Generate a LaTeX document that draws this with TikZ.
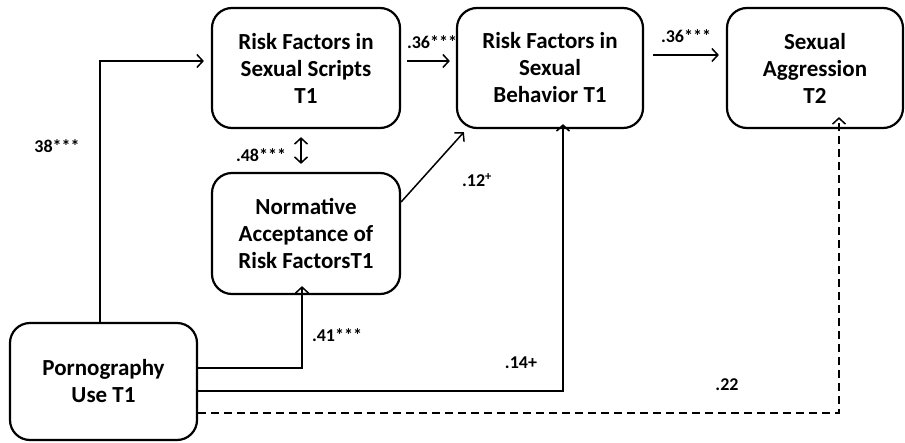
\documentclass[tikz,border=0pt]{standalone}
\usepackage{fontspec}
\setmainfont{Carlito}
\usetikzlibrary{arrows.meta}
\begin{document}
\begin{tikzpicture}[x=1pt,y=-1pt,
  box/.style={draw, line width=2.2pt, rounded corners=20pt, align=center,
    font=\bfseries\fontsize{23}{27}\selectfont, inner sep=0pt},
  tip/.style={Straight Barb[length=6pt,width=13pt,line width=1.5pt]},
  arr/.style={line width=1.5pt, -{Straight Barb[length=6pt,width=13pt,line width=1.5pt]}},
  dbl/.style={line width=1.5pt, {Straight Barb[length=6pt,width=13pt,line width=1.5pt]}-{Straight Barb[length=6pt,width=13pt,line width=1.5pt]}},
  dsh/.style={arr, dash pattern=on 8pt off 5pt},
  lab/.style={font=\bfseries\fontsize{18}{20}\selectfont, inner sep=0pt}]
\useasboundingbox (0,0) rectangle (905,442);
\node[box, minimum width=188pt, minimum height=120pt] (scripts) at (306,68) {Risk Factors in\\Sexual Scripts\\T1};
\node[box, minimum width=188pt, minimum height=121pt] (norm) at (306,233.5) {Normative\\Acceptance of\\Risk FactorsT1};
\node[box, minimum width=186pt, minimum height=120pt] (behav) at (550,68) {Risk Factors in\\Sexual\\Behavior T1};
\node[box, minimum width=176pt, minimum height=120pt] (aggr) at (815,68) {Sexual\\Aggression\\T2};
\node[box, minimum width=187pt, minimum height=117pt] (porn) at (103.5,381.5) {Pornography\\Use T1};
\coordinate (v1) at (100,61);
\coordinate (v2) at (0,55);
% connectors
\draw[arr, shorten >=7pt] (porn.north -| v1) |- (scripts.west |- v1);
\draw[arr, shorten <=6pt, shorten >=6pt] (scripts.east |- v1) -- (behav.west |- v1);
\draw[arr, shorten <=9pt, shorten >=7pt] (behav.east |- v2) -- (aggr.west |- v2);
\draw[dbl, shorten <=8pt, shorten >=8pt] ([xshift=-5pt]scripts.south) -- ([xshift=-5pt]norm.north);
\draw[arr] ([yshift=31.5pt]norm.east) -- ([shift={(8pt,-3pt)}]behav.south west);
\draw[arr] ([yshift=13.5pt]porn.east) -| ([shift={(-4pt,9pt)}]norm.south);
\draw[arr] ([yshift=-9.5pt]porn.east) -| ([shift={(13pt,5pt)}]behav.south);
\draw[dsh] ([yshift=-31.5pt]porn.east) -| ([shift={(24pt,12pt)}]aggr.south);
% labels
\node[lab] (l1) at (57,146) {38***};
\node[lab] (l2) at (432,42) {.36***};
\node[lab] (l3) at (261,155) {.48***};
\node[lab] (l4) at (686,36) {.36***};
\node[lab] (l5) at (477,180) {.12\textsuperscript{+}};
\node[lab] (l6) at (337,335) {.41***};
\node[lab] (l7) at (521,363) {.14+};
\node[lab] (l8) at (727,385) {.22};
\end{tikzpicture}
\end{document}
